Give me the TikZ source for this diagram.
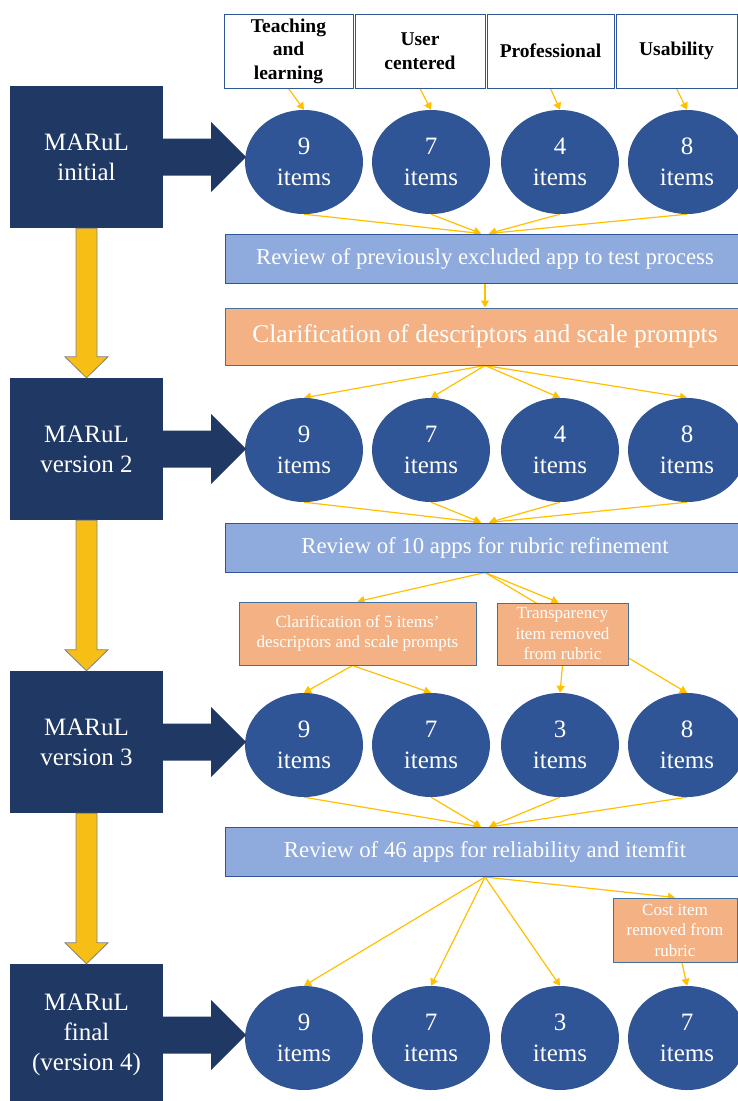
\documentclass[tikz,border=0pt]{standalone}
\usepackage{fontspec}
\setmainfont{Liberation Serif}
\usetikzlibrary{shapes.geometric,arrows.meta,backgrounds}
\definecolor{navy}{HTML}{203864}
\definecolor{itemblue}{HTML}{2F5597}
\definecolor{reviewblue}{HTML}{8FAADC}
\definecolor{peach}{HTML}{F4B183}
\definecolor{edgeblue}{HTML}{41719C}
\definecolor{gold}{HTML}{FFC000}
\definecolor{arrowgold}{HTML}{F7BE16}

\begin{document}
\begin{tikzpicture}[x=1pt,y=-1pt,
	head/.style={draw=itemblue,line width=1pt,fill=white,minimum height=74,inner sep=1pt,align=center,font=\bfseries\fontsize{19.5}{23.5}\selectfont},
	version/.style={fill=navy,minimum width=153,minimum height=142,align=center,text=white,font=\fontsize{25}{30}\selectfont},
	items/.style={ellipse,fill=itemblue,minimum width=118,minimum height=104,inner sep=0,align=center,text=white,font=\fontsize{25}{31}\selectfont},
	review/.style={draw=itemblue,line width=1pt,fill=reviewblue,minimum width=520,minimum height=49,text=white,font=\fontsize{22.8}{27}\selectfont},
	change/.style={draw=edgeblue,line width=1pt,fill=peach,text=white,align=center,inner sep=1pt,font=\fontsize{17}{20.5}\selectfont},
	flow/.style={gold,line width=1.2pt,-{Triangle[width=8pt,length=7pt]}},
	down/.style={fill=arrowgold,draw=gray,line width=0.8pt},
	side/.style={fill=navy}]
	\useasboundingbox (0,0) rectangle (737,1101);

	\node[head,minimum width=129] (h1) at (288.5,51) {Teaching\\and\\learning};
	\node[head,minimum width=130] (h2) at (420,51) {User\\centered};
	\node[head,minimum width=127] (h3) at (550.5,51) {Professional};
	\node[head,minimum width=121] (h4) at (676.5,51) {Usability};

	\node[version] (m1) at (86.5,157) {MARuL\\initial};
	\node[version] (m2) at (86.5,449) {MARuL\\version 2};
	\node[version] (m3) at (86.5,742) {MARuL\\version 3};
	\node[version] (m4) at (86.5,1035) {MARuL\\final\\(version 4)};

	\foreach \r/\y/\a/\b/\c/\d in {1/162/9/7/4/8,2/450/9/7/4/8,3/745/9/7/3/8,4/1038/9/7/3/7} {
		\node[items] (e\r1) at (304,\y) {\a\\items};
		\node[items] (e\r2) at (431,\y) {\b\\items};
		\node[items] (e\r3) at (560,\y) {\c\\items};
		\node[items] (e\r4) at (687,\y) {\d\\items};
	}

	\node[review] (r1) at (485,258.5) {Review of previously excluded app to test process};
	\node[change,minimum width=520,minimum height=57,font=\fontsize{25.5}{30}\selectfont] (c1) at (485,336.5) {Clarification of descriptors and scale prompts};
	\node[review] (r2) at (485,547.5) {Review of 10 apps for rubric refinement};
	\node[change,minimum width=237,minimum height=63] (c2) at (357.5,633.5) {Clarification of 5 items'\\descriptors and scale prompts};
	\node[change,minimum width=131,minimum height=62] (t) at (562.5,634) {Transparency\\item removed\\from rubric};
	\node[review] (r3) at (485,852) {Review of 46 apps for reliability and itemfit};
	\node[change,minimum width=124,minimum height=64] (k) at (675,930) {Cost item\\removed from\\rubric};

	\foreach \a/\b in {m1/m2,m2/m3,m3/m4} {
		\draw[down] ([xshift=-10.5pt]\a.south) -- ([xshift=-10.5pt,yshift=21pt]\b.north) -- ([xshift=-21.5pt,yshift=21pt]\b.north) -- (\b.north) -- ([xshift=21.5pt,yshift=21pt]\b.north) -- ([xshift=10.5pt,yshift=21pt]\b.north) -- ([xshift=10.5pt]\a.south) -- cycle;
	}
	\foreach \m in {1,...,4} {
		\fill[side] ([yshift=18.5pt]m\m.east) -- ([xshift=48pt,yshift=18.5pt]m\m.east) -- ([xshift=48pt,yshift=35pt]m\m.east) -- ([xshift=83pt]m\m.east) -- ([xshift=48pt,yshift=-35pt]m\m.east) -- ([xshift=48pt,yshift=-18.5pt]m\m.east) -- ([yshift=-18.5pt]m\m.east) -- cycle;
	}

	\begin{pgfonlayer}{background}
		\foreach \c in {1,...,4} {
			\draw[flow] (h\c.south) -- (e1\c.north);
			\draw[flow] (c1.south) -- (e2\c.north);
		}
		\foreach \c/\s in {1/-4,2/-4,3/4,4/4} {
			\draw[flow] (e1\c.south) -- ([xshift=\s pt]r1.north);
			\draw[flow] (e2\c.south) -- ([xshift=\s pt]r2.north);
			\draw[flow] (e3\c.south) -- ([xshift=\s pt]r3.north);
		}
		\draw[flow] (r1.south) -- (c1.north);
		\draw[flow] (r2.south) -- (c2.north);
		\draw[flow] (r2.south) -- ([xshift=-4pt]t.north);
		\draw[flow] (r2.south) -- (e34.north);
		\draw[flow] ([xshift=-5pt]c2.south) -- (e31.north);
		\draw[flow] ([xshift=-5pt]c2.south) -- (e32.north);
		\draw[flow] (t.south) -- (e33.north);
		\foreach \c in {1,...,3} {
			\draw[flow] (r3.south) -- (e4\c.north);
		}
		\draw[flow] (r3.south) -- (k.north);
		\draw[flow] ([xshift=7pt]k.south) -- (e44.north);
	\end{pgfonlayer}
\end{tikzpicture}
\end{document}
